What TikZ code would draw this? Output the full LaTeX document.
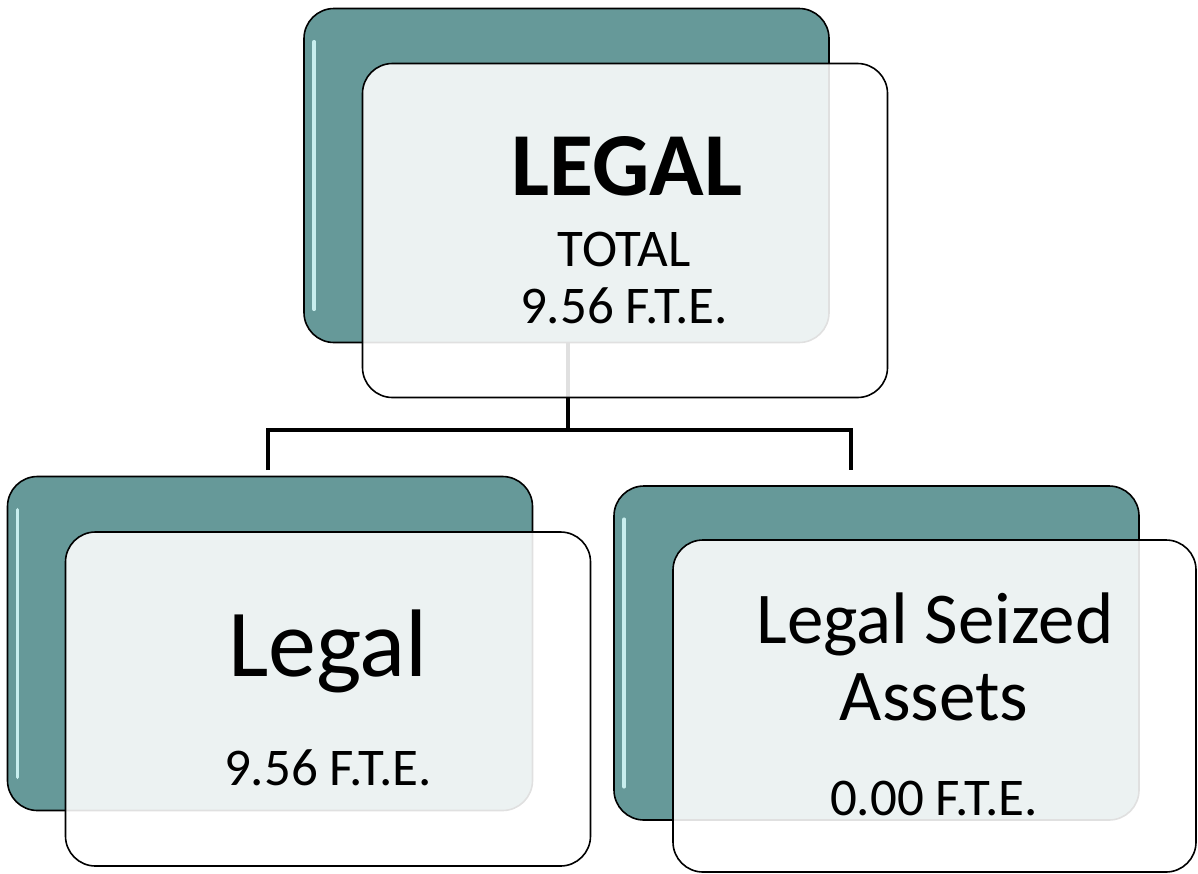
\documentclass[tikz,border=0pt]{standalone}
\usepackage{fontspec}
\setmainfont{Carlito}
\definecolor{tealbox}{RGB}{102,153,153}
\definecolor{glosscol}{RGB}{200,238,238}
\tikzset{
  backbox/.style={draw=black,line width=1.6pt,fill=tealbox,rounded corners=30pt,
    minimum width=525pt,minimum height=334pt,inner sep=0pt},
  frontbox/.style={draw=black,line width=1.6pt,fill=white,fill opacity=0.88,
    rounded corners=30pt,minimum width=525pt,minimum height=334pt,inner sep=0pt},
  gloss/.style={draw=glosscol,line width=3.5pt,line cap=round},
  link/.style={draw=black,line width=3.5pt},
  lbl/.style={anchor=base,inner sep=0pt}
}
\begin{document}
\begin{tikzpicture}[x=1pt,y=1pt]
\useasboundingbox (0,0) rectangle (1198,-873);
\node[backbox] (topB) at (566.5,-175.5) {};
\node[backbox] (leftB) at (270,-643.5) {};
\node[backbox] (rightB) at (876.5,-653) {};
\draw[gloss] ([xshift=11pt,yshift=-34pt]topB.north west) -- ([xshift=11pt,yshift=34pt]topB.south west);
\draw[gloss] ([xshift=11pt,yshift=-34pt]leftB.north west) -- ([xshift=11pt,yshift=34pt]leftB.south west);
\draw[gloss] ([xshift=11pt,yshift=-34pt]rightB.north west) -- ([xshift=11pt,yshift=34pt]rightB.south west);
\coordinate (jn) at (568,-430);
\coordinate (legalIn) at (268,-470);
\coordinate (seizedIn) at (851,-470);
\draw[link] (topB.south -| jn) -- (jn);
\draw[link] (legalIn) |- (seizedIn |- jn) -- (seizedIn);
\node[frontbox] (topF) at (625,-230.5) {};
\node[frontbox] (leftF) at (328,-699) {};
\node[frontbox,minimum width=523pt,minimum height=332pt] (rightF) at (934.5,-706) {};
\node[lbl,font=\fontsize{90}{100}\selectfont\bfseries] (legalHead) at (627,-195) {LEGAL};
\node[lbl,font=\fontsize{53}{60}\selectfont] (legalTotal) at (624,-266) {TOTAL};
\node[lbl,font=\fontsize{53}{60}\selectfont] (legalFte) at (624,-323) {9.56 F.T.E.};
\node[lbl,font=\fontsize{96}{100}\selectfont] (subLegal) at (328,-676) {Legal};
\node[lbl,font=\fontsize{53}{60}\selectfont] (subLegalFte) at (328,-785) {9.56 F.T.E.};
\node[lbl,font=\fontsize{73}{80}\selectfont] (seizedA) at (935,-643) {Legal Seized};
\node[lbl,font=\fontsize{73}{80}\selectfont] (seizedB) at (934,-720) {Assets};
\node[lbl,font=\fontsize{53}{60}\selectfont] (seizedFte) at (934,-815) {0.00 F.T.E.};
\end{tikzpicture}
\end{document}
